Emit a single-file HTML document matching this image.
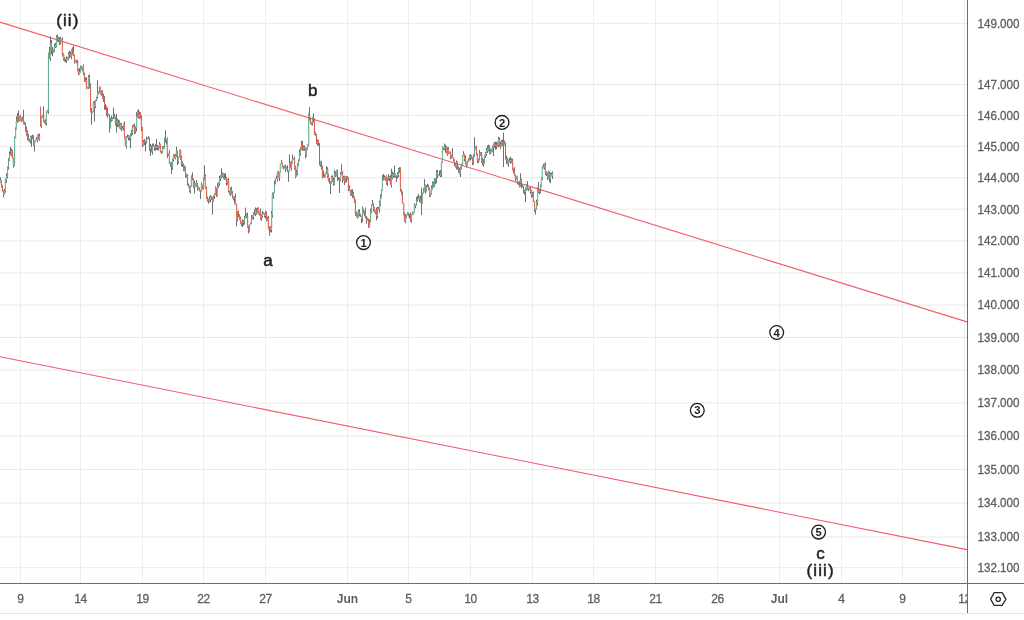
<!DOCTYPE html>
<html><head><meta charset="utf-8"><title>chart</title>
<style>html,body{margin:0;padding:0;background:#fff;overflow:hidden}svg{display:block;will-change:transform}text{font-family:"Liberation Sans",sans-serif}</style>
</head><body>
<svg width="1024" height="620" viewBox="0 0 1024 620">
<rect x="0" y="0" width="1024" height="620" fill="#ffffff"/>
<path d="M20.5 0V583M80.5 0V583M142.5 0V583M203.5 0V583M265.5 0V583M347.5 0V583M408.5 0V583M470.5 0V583M532.5 0V583M593.5 0V583M655.5 0V583M717.5 0V583M779.5 0V583M841.5 0V583M902.5 0V583M964.5 0V583" stroke="#eeeeee" stroke-width="1" fill="none" shape-rendering="crispEdges"/>
<path d="M0 23.36H967M0 84.46H967M0 115.32H967M0 146.40H967M0 177.69H967M0 209.20H967M0 240.93H967M0 272.89H967M0 305.07H967M0 337.48H967M0 370.13H967M0 403.01H967M0 436.14H967M0 469.51H967M0 503.12H967M0 536.99H967M0 567.69H967" stroke="#e9e9e9" stroke-width="1" fill="none"/>
<clipPath id="pane"><rect x="0" y="0" width="967" height="583"/></clipPath>
<g clip-path="url(#pane)">
<path d="M0 22.1L967 321.9M0 356.7L967 549.6" stroke="#f45a69" stroke-width="1.1" fill="none"/>
<path d="M0.5 177.4V180.4M0.5 182.3V182.7M1.5 180.0V180.4M1.5 185.5V187.7M2.5 184.7V185.5M2.5 191.1V191.5M3.5 190.3V191.1M3.5 194.4V197.4M4.5 188.7V191.1M4.5 194.4V194.8M5.5 178.8V180.0M5.5 191.1V192.7M6.5 173.3V176.3M6.5 180.0V183.1M7.5 166.1V166.5M7.5 176.3V178.5M8.5 158.3V159.9M8.5 166.5V169.5M9.5 151.6V154.2M9.5 159.9V161.1M10.5 146.8V154.0M10.5 155.0V155.3M11.5 148.6V151.6M11.5 154.9V156.5M12.5 150.0V151.6M12.5 157.9V158.7M13.5 157.5V157.9M13.5 164.7V167.7M14.5 136.7V137.9M14.5 164.7V165.9M15.5 127.4V129.3M15.5 137.9V138.3M16.5 116.4V121.1M16.5 129.3V129.7M17.5 113.0V116.0M17.5 121.1V122.7M18.5 110.5V116.0M18.5 120.3V121.9M19.5 115.8V116.6M19.5 120.3V121.5M20.5 115.0V116.6M20.5 120.5V120.9M21.5 116.9V117.7M21.5 120.5V122.1M22.5 116.5V117.3M22.5 118.3V121.0M23.5 109.7V118.0M23.5 123.6V124.4M24.5 121.4V123.3M24.5 124.3V125.0M25.5 122.8V124.0M25.5 129.4V131.6M26.5 126.8V129.4M26.5 133.4V135.6M27.5 130.4V133.4M27.5 137.8V140.0M28.5 134.1V137.8M28.5 139.6V141.2M29.5 138.8V139.6M29.5 141.3V142.3M30.5 136.4V137.2M30.5 141.3V143.5M31.5 135.5V137.1M31.5 138.1V146.8M32.5 134.7V136.9M32.5 138.0V139.2M33.5 135.3V136.9M33.5 144.3V145.9M34.5 140.3V141.5M34.5 144.3V151.6M35.5 138.9V139.3M35.5 141.5V142.3M36.5 137.1V138.8M36.5 139.8V139.9M37.5 134.3V134.7M37.5 139.3V142.3M38.5 133.5V134.7M38.5 138.6V139.4M39.5 133.9V136.1M39.5 138.6V140.8M40.5 106.5V107.3M40.5 124.8V126.4M41.5 116.2V117.4M41.5 124.8V127.8M42.5 114.9V116.1M42.5 117.4V118.2M43.5 106.5V116.1M43.5 120.7V121.9M44.5 119.9V120.7M44.5 121.7V123.3M45.5 119.5V121.7M45.5 122.7V124.6M46.5 110.7V111.1M46.5 122.7V125.7M47.5 109.7V110.5M47.5 111.5V112.7M48.5 52.5V52.9M48.5 110.9V113.9M49.5 46.8V52.9M49.5 58.1V58.9M50.5 36.3V43.0M50.5 58.1V61.1M51.5 40.0V43.0M51.5 50.0V54.4M52.5 47.0V50.0M52.5 52.1V56.2M53.5 49.2V50.8M53.5 52.1V52.9M54.5 43.9V46.1M54.5 50.8V52.0M55.5 42.7V45.4M55.5 46.4V48.0M56.5 35.2V37.4M56.5 45.7V47.3M57.5 34.7V37.4M57.5 39.4V41.6M58.5 37.1V38.8M58.5 39.8V42.4M59.5 37.1V39.3M59.5 42.2V45.2M60.5 36.8V39.0M60.5 42.2V44.4M61.5 39.5V39.8M62.5 37.4V39.0M62.5 54.3V56.5M63.5 53.1V54.3M63.5 58.3V60.5M64.5 57.1V58.2M64.5 59.2V61.3M65.5 58.4V58.8M65.5 59.8V62.3M66.5 56.5V58.5M66.5 59.5V62.9M67.5 57.1V58.3M67.5 59.3V60.2M68.5 52.2V55.2M68.5 59.0V60.2M69.5 50.7V53.7M69.5 55.2V58.2M70.5 51.6V53.7M70.5 56.2V57.0M71.5 48.8V49.6M71.5 56.2V59.2M72.5 47.4V49.6M72.5 53.5V55.1M73.5 46.0V53.5M73.5 54.7V55.9M74.5 54.3V54.7M74.5 62.1V63.7M75.5 59.7V60.1M75.5 62.1V62.5M76.5 59.7V60.1M76.5 61.1V63.3M77.5 59.8V61.0M77.5 70.3V71.1M78.5 69.1V70.3M78.5 73.4V75.0M79.5 68.0V72.4M79.5 73.4V74.6M80.5 65.7V67.3M80.5 72.4V72.8M81.5 66.1V67.3M81.5 69.6V70.0M82.5 66.4V66.8M82.5 69.6V71.2M83.5 64.5V66.8M83.5 72.9V75.1M84.5 72.5V72.9M84.5 81.1V81.9M85.5 77.3V80.2M85.5 81.2V82.3M86.5 77.3V80.3M86.5 88.5V89.3M87.5 86.7V87.3M87.5 88.5V88.9M88.5 75.2V77.4M88.5 87.3V88.9M89.5 74.4V77.4M89.5 86.7V88.3M90.5 83.3V86.7M90.5 111.3V112.5M91.5 108.3V111.3M91.5 112.7V124.8M92.5 111.0V111.4M92.5 112.7V113.5M93.5 101.4V103.0M93.5 111.4V112.2M94.5 100.8V103.0M94.5 106.5V121.6M95.5 99.6V100.0M95.5 106.5V108.1M96.5 96.8V98.0M96.5 100.0V101.2M97.5 80.2V93.3M97.5 98.0V98.8M98.5 91.5V92.7M98.5 93.7V94.5M99.5 86.5V86.9M99.5 93.1V93.5M100.5 86.5V86.9M100.5 92.8V94.4M101.5 90.3V92.2M101.5 93.2V95.7M102.5 90.3V92.5M102.5 97.4V99.0M103.5 93.8V97.4M103.5 98.9V101.9M104.5 95.9V98.9M104.5 104.8V109.8M105.5 104.0V104.8M105.5 106.1V109.8M106.5 105.7V106.1M106.5 112.9V115.9M107.5 107.7V112.9M107.5 114.8V117.8M108.5 113.4V114.2M108.5 115.2V115.8M109.5 114.2V114.6M109.5 128.0V132.5M110.5 117.8V119.4M110.5 128.0V128.4M111.5 115.5V119.0M111.5 120.0V121.7M112.5 116.9V117.3M112.5 119.5V120.7M113.5 107.6V116.9M113.5 117.9V119.0M114.5 113.8V116.6M114.5 117.6V118.6M115.5 116.4V116.8M115.5 123.2V125.4M116.5 113.8V119.9M116.5 123.2V132.6M117.5 118.7V119.9M117.5 124.2V127.2M118.5 119.7V122.7M118.5 124.2V126.4M119.5 120.5V122.7M119.5 127.8V128.6M120.5 123.0V124.2M120.5 127.8V129.4M121.5 123.0V124.2M121.5 129.8V131.4M122.5 125.9V128.1M122.5 129.8V130.2M123.5 123.6V124.4M123.5 128.1V130.3M124.5 121.4V124.4M124.5 137.1V138.3M125.5 136.7V137.1M125.5 145.5V146.3M126.5 136.1V137.3M126.5 145.5V148.5M127.5 134.5V136.9M128.5 135.2V136.0M128.5 137.4V140.4M129.5 135.6V136.0M129.5 137.8V140.5M130.5 133.4V135.0M130.5 137.8V148.2M131.5 129.9V132.9M131.5 135.0V136.2M132.5 125.3V126.9M132.5 132.9V135.1M133.5 124.4V125.9M133.5 126.9V127.3M134.5 123.8V126.0M134.5 132.0V134.2M135.5 126.3V127.9M135.5 132.0V133.6M136.5 112.2V116.6M136.5 127.9V131.4M137.5 110.6V112.2M137.5 116.6V117.8M138.5 109.2V112.2M138.5 117.1V118.3M139.5 111.6V114.6M139.5 117.1V118.7M140.5 112.4V114.6M140.5 117.6V119.2M141.5 115.4V117.6M141.5 128.1V131.1M142.5 126.9V128.1M142.5 145.2V147.4M143.5 139.9V142.1M143.5 145.2V146.0M144.5 138.8V140.4M144.5 142.1V145.1M145.5 140.0V140.4M145.5 141.4V151.4M146.5 136.7V139.2M146.5 141.3V143.5M147.5 137.5V138.5M147.5 139.5V140.0M148.5 136.1V138.3M148.5 139.3V139.3M149.5 137.3V138.9M149.5 148.6V150.8M150.5 143.9V146.1M150.5 148.6V156.0M151.5 145.3V146.1M151.5 151.6V152.4M152.5 143.6V146.6M152.5 151.6V154.6M153.5 143.5V145.7M153.5 146.7V147.0M154.5 145.3V145.7M154.5 147.7V150.7M155.5 144.2V146.4M155.5 147.7V150.7M156.5 139.0V146.4M156.5 147.7V149.9M157.5 145.1V147.0M157.5 148.0V150.2M158.5 146.1V146.8M158.5 147.8V150.4M159.5 142.0V144.2M159.5 147.4V148.2M160.5 143.8V144.2M160.5 152.2V152.6M161.5 151.0V152.0M161.5 153.0V154.0M162.5 146.1V147.7M162.5 152.8V153.2M163.5 146.1V147.3M163.5 148.3V149.0M164.5 137.4V137.8M164.5 147.9V148.7M165.5 130.3V137.8M165.5 142.2V143.0M166.5 138.8V139.2M166.5 142.2V144.4M167.5 137.6V139.2M167.5 155.0V158.0M168.5 152.9V153.3M168.5 155.0V155.8M169.5 150.3V153.3M169.5 163.6V164.0M170.5 161.8V162.8M170.5 163.8V166.8M171.5 162.2V163.0M171.5 166.7V174.0M172.5 158.8V160.0M172.5 166.7V169.7M173.5 154.3V155.9M173.5 160.0V161.4M174.5 154.3V155.9M174.5 157.8V158.2M175.5 154.0V155.2M175.5 157.8V159.4M176.5 146.6V150.9M176.5 155.2V156.8M177.5 150.5V150.9M177.5 162.0V165.0M178.5 156.4V156.8M178.5 162.0V163.6M179.5 149.5V150.7M179.5 156.8V157.6M180.5 149.5V150.7M180.5 158.6V159.8M181.5 155.6V158.6M181.5 163.5V166.5M182.5 161.3V163.2M182.5 164.2V166.9M183.5 163.5V163.9M183.5 169.5V171.1M184.5 165.6V166.8M184.5 169.5V171.1M185.5 166.4V166.8M185.5 174.4V177.4M186.5 173.6V174.4M186.5 176.6V177.8M187.5 174.4V176.6M187.5 185.0V185.4M188.5 183.4V185.0M188.5 186.4V187.7M189.5 185.6V186.4M189.5 190.7V192.3M190.5 185.5V185.9M190.5 190.7V193.5M191.5 175.3V176.9M191.5 185.9V186.7M192.5 172.4V176.9M192.5 179.0V180.2M193.5 178.6V179.0M193.5 187.2V188.4M194.5 180.7V183.7M194.5 187.2V193.5M195.5 182.9V183.7M195.5 185.7V186.9M196.5 180.0V183.2M196.5 185.7V186.9M197.5 182.8V183.2M197.5 187.7V190.7M198.5 186.5V187.3M198.5 188.3V189.5M199.5 187.5V187.9M199.5 191.1V191.5M200.5 190.0V190.8M200.5 191.8V199.0M201.5 182.6V185.6M201.5 191.5V191.9M202.5 184.8V185.6M202.5 189.1V189.5M203.5 177.5V178.7M203.5 189.1V189.5M204.5 165.3V176.0M204.5 178.7V179.9M205.5 174.6V176.0M205.5 188.2V189.0M206.5 186.6V188.2M206.5 198.8V199.2M207.5 196.6V198.8M207.5 200.0V201.7M208.5 198.8V199.9M208.5 200.9V203.7M209.5 196.0V199.5M209.5 200.7V201.9M210.5 195.0V196.2M210.5 199.5V202.5M211.5 195.8V196.2M211.5 198.5V200.1M212.5 196.9V198.5M212.5 201.4V214.6M213.5 195.3V195.7M213.5 201.4V201.8M214.5 193.4V193.8M214.5 195.7V198.8M215.5 186.5V188.2M215.5 193.8V195.0M216.5 187.8V188.2M216.5 195.4V197.0M217.5 183.3V187.0M217.5 195.4V196.6M218.5 182.2V183.8M218.5 187.0V188.2M219.5 175.8V178.8M219.5 183.8V186.0M220.5 175.2V176.0M220.5 178.8V181.0M221.5 168.5V175.6M221.5 176.6V178.3M222.5 172.5V174.1M222.5 176.1V177.3M223.5 173.3V174.1M223.5 178.8V179.2M224.5 173.3V178.2M224.5 179.2V180.0M225.5 173.3V178.1M225.5 179.1V179.8M226.5 176.9V178.5M226.5 182.5V185.6M227.5 179.0V180.2M227.5 182.5V184.7M228.5 178.0V180.2M228.5 190.8V192.4M229.5 190.4V190.8M229.5 193.8V194.6M230.5 187.5V189.7M230.5 193.8V196.0M231.5 186.7V189.7M231.5 193.4V194.6M232.5 191.2V193.4M232.5 196.7V198.3M233.5 196.3V196.7M233.5 198.1V200.4M234.5 196.0V197.4M234.5 198.4V203.7M235.5 193.6V197.6M235.5 204.6V205.4M236.5 203.8V204.6M236.5 220.1V226.4M237.5 211.0V211.8M237.5 220.1V221.3M238.5 210.6V211.8M238.5 214.9V217.1M239.5 214.1V214.9M239.5 218.2V219.8M240.5 216.6V218.2M240.5 223.3V224.1M241.5 221.1V221.5M241.5 223.3V226.3M242.5 219.3V221.5M242.5 222.5V227.0M243.5 220.2V222.0M243.5 223.0V225.5M244.5 215.9V217.5M244.5 222.4V224.4M245.5 207.6V216.7M245.5 217.7V218.3M246.5 213.6V215.8M246.5 216.9V218.1M247.5 212.4V215.8M247.5 226.6V227.8M248.5 225.4V226.6M248.5 230.9V233.4M249.5 224.3V224.7M249.5 230.9V231.7M250.5 222.6V223.0M250.5 224.7V225.1M251.5 214.9V217.1M251.5 223.0V223.8M252.5 215.5V216.4M252.5 217.4V219.3M253.5 212.1V212.9M253.5 216.7V219.7M254.5 209.3V212.9M254.5 214.0V215.2M255.5 207.4V210.4M255.5 214.0V216.2M256.5 208.2V210.4M256.5 212.4V214.6M257.5 212.4V212.8M258.5 207.1V207.5M258.5 214.0V214.4M259.5 210.8V211.6M259.5 214.0V215.6M260.5 208.6V211.6M260.5 217.9V219.5M261.5 214.4V215.6M261.5 217.9V220.9M262.5 210.9V213.9M262.5 215.6V217.8M263.5 212.1V213.3M263.5 214.3V214.3M264.5 213.3V213.7M264.5 215.6V217.4M265.5 210.7V214.6M265.5 215.6V218.6M266.5 211.6V214.6M266.5 219.4V221.6M267.5 216.8V218.0M267.5 219.4V220.6M268.5 215.8V218.0M268.5 229.1V229.5M269.5 226.3V227.1M269.5 229.1V235.8M270.5 225.9V227.1M270.5 229.7V231.9M271.5 210.9V214.6M271.5 229.7V232.7M272.5 192.6V194.8M272.5 214.6V217.6M273.5 192.0V192.8M273.5 194.8V198.8M274.5 180.4V184.1M274.5 192.8V193.2M275.5 178.1V178.5M275.5 184.1V184.5M276.5 175.5V178.1M277.5 171.6V172.0M277.5 178.7V181.7M278.5 170.8V172.0M278.5 177.5V178.3M279.5 172.2V172.6M279.5 177.5V181.0M280.5 163.4V163.8M280.5 172.6V173.0M281.5 159.8V162.8M281.5 163.8V164.2M282.5 162.4V162.8M282.5 167.6V168.4M283.5 165.7V167.4M283.5 168.4V169.4M284.5 165.5V166.7M284.5 168.2V168.6M285.5 164.5V166.7M285.5 169.8V172.0M286.5 166.7V168.3M286.5 169.8V170.2M287.5 165.3V168.3M287.5 171.9V172.3M288.5 170.1V170.5M288.5 171.9V181.8M289.5 154.4V163.5M289.5 170.5V171.7M290.5 161.9V163.5M290.5 167.7V168.1M291.5 160.9V162.5M291.5 167.7V170.7M292.5 154.4V159.0M292.5 162.5V163.7M293.5 158.2V158.7M293.5 159.7V159.9M294.5 156.5V159.5M294.5 167.6V169.8M295.5 166.0V167.6M295.5 176.6V178.2M296.5 169.9V172.9M296.5 176.6V177.0M297.5 163.4V165.6M297.5 172.9V175.1M298.5 159.3V160.9M298.5 165.6V166.4M299.5 149.6V152.6M299.5 160.9V161.3M300.5 147.2V148.8M300.5 152.6V155.6M301.5 140.9V143.9M301.5 148.8V150.0M302.5 140.9V143.9M302.5 149.9V150.7M303.5 145.5V147.7M303.5 149.9V150.9M304.5 145.5V147.7M304.5 148.7V150.9M305.5 147.5V148.7M305.5 155.3V158.3M306.5 147.6V148.4M306.5 155.3V156.9M307.5 144.3V145.5M307.5 148.4V150.1M308.5 113.4V114.6M308.5 145.5V146.3M309.5 107.0V114.6M309.5 117.5V120.5M310.5 117.1V117.5M310.5 123.3V124.1M311.5 121.7V122.4M311.5 123.4V125.1M312.5 116.9V117.7M312.5 122.5V125.5M313.5 113.3V117.7M313.5 120.1V122.3M314.5 118.5V120.1M314.5 133.4V135.0M315.5 131.8V133.4M315.5 135.4V136.2M316.5 134.2V135.4M316.5 142.6V144.2M317.5 139.1V141.3M317.5 142.6V145.6M318.5 140.1V141.3M318.5 143.2V145.8M319.5 142.8V143.2M319.5 164.5V165.7M320.5 160.8V161.6M320.5 164.5V166.7M321.5 160.8V161.6M321.5 166.6V169.6M322.5 165.4V166.6M322.5 176.3V178.5M323.5 170.6V176.0M323.5 177.0V177.4M324.5 174.4V176.3M324.5 177.3V178.1M325.5 172.7V173.1M325.5 176.9V177.3M326.5 166.0V169.0M326.5 173.1V174.3M327.5 167.4V169.0M327.5 175.5V177.7M328.5 173.9V175.5M328.5 180.9V181.7M329.5 177.9V180.9M329.5 183.1V183.9M330.5 180.9V181.7M330.5 183.1V194.0M331.5 175.5V177.1M331.5 181.7V183.3M332.5 175.5V177.1M332.5 180.6V181.8M333.5 177.6V180.6M333.5 183.8V185.7M334.5 170.1V173.1M334.5 183.8V185.0M335.5 171.5V173.1M335.5 175.3V176.9M336.5 169.8V170.6M336.5 175.3V176.5M337.5 169.4V170.6M337.5 180.4V181.2M338.5 177.0V179.7M338.5 180.7V180.8M339.5 177.8V179.5M339.5 180.5V193.0M340.5 172.0V174.5M340.5 180.1V181.3M341.5 164.2V171.1M341.5 174.5V175.3M342.5 170.7V171.1M342.5 179.9V182.9M343.5 176.0V177.2M343.5 179.9V180.7M344.5 175.6V177.2M344.5 182.0V185.0M345.5 176.8V177.6M345.5 182.0V182.8M346.5 175.9V177.6M346.5 179.2V182.2M347.5 176.2V178.7M348.5 177.6V179.2M348.5 188.3V191.3M349.5 185.3V188.3M349.5 190.1V190.5M350.5 189.7V190.1M350.5 193.5V195.7M351.5 189.6V192.9M351.5 193.9V195.7M352.5 189.2V193.3M352.5 194.8V197.8M353.5 191.8V194.8M353.5 197.3V198.5M354.5 196.5V197.3M354.5 200.6V202.8M355.5 199.4V200.6M355.5 214.6V215.8M356.5 211.4V212.8M356.5 214.6V216.8M357.5 212.4V212.8M357.5 217.5V218.7M358.5 209.5V212.5M358.5 217.5V217.9M359.5 209.4V212.5M359.5 214.0V216.2M360.5 213.6V214.0M360.5 216.1V216.9M361.5 215.7V216.1M361.5 218.8V223.0M362.5 206.5V209.5M362.5 218.8V221.8M363.5 208.7V209.5M363.5 213.1V213.5M364.5 210.2V210.6M364.5 213.1V216.1M365.5 207.6V210.6M365.5 218.3V218.7M366.5 216.1V218.3M366.5 220.6V223.6M367.5 217.7V218.9M367.5 220.6V221.0M368.5 218.5V218.9M368.5 226.3V227.9M369.5 219.3V220.9M369.5 226.3V227.5M370.5 208.5V211.5M370.5 220.9V222.5M371.5 204.0V204.8M371.5 211.5V213.1M372.5 200.0V203.4M372.5 204.8V205.6M373.5 203.0V203.4M373.5 208.4V211.4M374.5 207.1V208.4M374.5 212.7V213.1M375.5 209.8V210.6M375.5 212.7V214.3M376.5 207.6V210.6M376.5 215.4V220.4M377.5 206.9V208.1M377.5 215.4V218.4M378.5 206.9V208.1M378.5 209.8V210.2M379.5 200.6V203.6M379.5 209.8V212.8M380.5 194.5V197.5M380.5 203.6V205.8M381.5 189.5V189.9M381.5 197.5V198.7M382.5 175.0V178.0M382.5 189.9V190.7M383.5 174.0V177.0M383.5 178.0V180.5M384.5 175.4V177.0M384.5 178.6V179.8M385.5 176.1V176.5M385.5 178.6V180.8M386.5 175.3V176.5M386.5 182.5V184.7M387.5 177.7V178.9M387.5 182.5V186.0M388.5 174.1V177.1M388.5 178.9V180.5M389.5 175.9V176.8M389.5 177.8V181.2M390.5 175.2V177.4M390.5 184.7V185.1M391.5 168.8V177.8M391.5 184.7V187.6M392.5 171.6V174.6M392.5 177.8V179.4M393.5 173.0V174.5M393.5 175.5V177.4M394.5 165.6V174.6M394.5 175.6V177.7M395.5 173.6V174.6M395.5 175.6V177.6M396.5 175.0V175.3M396.5 176.3V181.9M397.5 172.2V174.4M397.5 176.2V178.4M398.5 168.0V169.6M398.5 174.4V177.2M399.5 167.2V169.0M399.5 170.0V172.6M400.5 167.3V169.5M400.5 189.3V191.5M401.5 188.9V189.3M401.5 193.7V194.9M402.5 191.5V193.7M402.5 203.1V203.5M403.5 202.7V203.1M403.5 214.6V215.4M404.5 212.4V214.6M404.5 220.9V221.7M405.5 214.1V217.3M405.5 220.9V223.1M406.5 214.5V214.9M406.5 217.3V218.5M407.5 212.2V212.9M407.5 214.9V215.3M408.5 212.5V212.9M408.5 214.2V216.4M409.5 213.8V214.2M409.5 215.3V218.5M410.5 212.3V215.3M410.5 219.4V221.6M411.5 214.1V214.9M411.5 219.4V222.8M412.5 211.4V213.3M412.5 214.9V215.3M413.5 212.2V212.4M413.5 213.4V214.5M414.5 203.5V205.1M414.5 212.6V213.0M415.5 204.3V204.7M415.5 205.7V208.3M416.5 197.0V200.0M416.5 205.3V205.7M417.5 195.8V198.8M417.5 200.0V201.6M418.5 193.9V196.9M418.5 198.8V199.2M419.5 196.1V196.9M419.5 198.7V202.4M420.5 195.7V198.7M420.5 202.1V202.9M421.5 187.6V201.5M421.5 202.5V215.0M422.5 192.7V193.5M422.5 201.9V203.5M423.5 188.4V191.4M423.5 193.5V193.9M424.5 179.0V185.7M424.5 191.4V192.2M425.5 184.5V185.7M425.5 191.6V193.8M426.5 185.3V186.9M426.5 191.6V192.0M427.5 183.8V186.4M428.5 184.7V186.9M428.5 188.7V190.3M429.5 187.5V188.7M429.5 195.2V197.0M430.5 193.0V193.4M430.5 195.2V196.8M431.5 185.4V188.4M431.5 193.4V194.6M432.5 181.5V183.7M432.5 188.4V189.6M433.5 181.5V183.7M433.5 186.2V187.4M434.5 178.2V179.0M434.5 186.2V187.4M435.5 178.2V179.0M435.5 180.1V184.3M436.5 170.0V172.2M436.5 180.1V183.1M437.5 170.0V172.2M437.5 175.4V178.4M438.5 174.6V175.1M438.5 176.1V176.2M439.5 170.5V175.1M439.5 176.1V176.2M440.5 170.0V173.0M440.5 175.4V177.0M441.5 161.5V162.3M441.5 173.0V177.3M442.5 146.3V147.5M442.5 162.3V162.7M443.5 147.1V147.5M443.5 148.9V150.1M444.5 143.5V146.0M444.5 148.9V150.1M445.5 144.8V146.0M445.5 147.1V152.7M446.5 145.9V147.1M446.5 153.6V154.0M447.5 147.2V149.4M447.5 153.6V155.8M448.5 147.2V149.4M448.5 153.3V154.1M449.5 151.6V152.0M449.5 153.3V153.7M450.5 151.6V152.0M450.5 157.1V159.3M451.5 155.2V156.5M451.5 157.5V158.7M452.5 148.2V156.7M452.5 157.7V157.9M453.5 157.1V157.5M453.5 159.7V161.1M454.5 158.9V159.7M454.5 163.4V166.2M455.5 162.6V163.4M455.5 167.1V167.5M456.5 160.5V162.7M456.5 167.1V169.3M457.5 161.5V162.7M457.5 168.6V169.8M458.5 166.4V168.6M458.5 170.1V172.8M459.5 167.9V170.1M459.5 173.9V174.7M460.5 166.6V168.2M460.5 173.9V177.1M461.5 163.4V164.5M461.5 168.2V169.4M462.5 155.0V155.8M462.5 164.5V166.1M463.5 151.2V154.2M463.5 155.8V156.2M464.5 153.8V154.2M464.5 158.5V161.5M465.5 155.5V158.5M465.5 162.3V164.5M466.5 161.9V162.3M466.5 164.4V167.6M467.5 160.5V160.9M467.5 164.4V165.6M468.5 158.5V160.3M468.5 161.3V162.1M469.5 154.9V156.5M469.5 160.8V161.2M470.5 154.1V155.9M470.5 156.9V160.3M471.5 155.1V156.3M471.5 157.5V159.1M472.5 156.7V157.5M472.5 163.0V165.2M473.5 154.2V156.4M473.5 163.0V164.6M474.5 137.2V148.4M474.5 156.4V157.2M475.5 146.4V146.8M475.5 148.4V149.6M476.5 145.6V146.8M476.5 153.6V155.2M477.5 153.2V153.6M477.5 160.1V162.7M478.5 158.5V159.7M478.5 160.7V163.3M479.5 150.1V153.1M479.5 160.3V160.7M480.5 152.3V153.1M480.5 154.2V155.8M481.5 152.0V154.2M481.5 160.7V162.9M482.5 157.7V160.7M482.5 162.2V165.2M483.5 159.2V162.2M483.5 163.5V166.5M484.5 155.4V155.8M484.5 163.5V163.9M485.5 152.0V153.6M485.5 155.8V158.0M486.5 147.9V150.1M486.5 153.6V155.8M487.5 145.4V149.4M487.5 150.4V153.1M488.5 144.8V147.0M488.5 149.7V151.3M489.5 145.4V147.0M489.5 152.6V154.2M490.5 148.7V149.5M490.5 152.6V154.2M491.5 148.3V149.5M491.5 151.4V152.6M492.5 145.7V146.9M492.5 151.4V152.2M493.5 143.5V144.1M493.5 146.9V156.0M494.5 141.9V144.1M494.5 145.3V147.8M495.5 141.7V143.9M495.5 145.3V149.6M496.5 141.7V143.9M496.5 146.4V149.4M497.5 142.7V144.9M497.5 146.4V147.2M498.5 136.8V139.0M498.5 144.9V147.1M499.5 137.4V139.0M499.5 144.8V146.4M500.5 141.8V144.8M500.5 146.5V148.7M501.5 139.8V141.0M501.5 146.5V146.9M502.5 139.8V141.0M502.5 142.7V145.7M503.5 132.5V142.7M503.5 144.7V167.0M504.5 140.7V142.9M504.5 144.7V145.5M505.5 142.5V142.9M505.5 158.6V159.8M506.5 155.6V158.6M506.5 159.8V163.9M507.5 157.6V159.8M507.5 164.0V164.4M508.5 159.6V160.0M508.5 164.0V167.0M509.5 157.8V160.0M509.5 161.4V162.6M510.5 156.8V160.5M510.5 161.5V163.6M511.5 158.5V160.3M511.5 161.3V163.1M512.5 158.7V160.9M512.5 168.8V170.4M513.5 168.4V168.8M513.5 170.1V173.1M514.5 167.1V170.1M514.5 174.4V175.6M515.5 174.0V174.4M515.5 178.9V181.1M516.5 175.8V176.2M516.5 178.9V179.3M517.5 175.8V176.2M517.5 182.7V184.3M518.5 181.7V182.1M518.5 183.1V184.9M519.5 180.9V182.5M519.5 186.2V187.4M520.5 173.2V180.5M520.5 186.2V187.0M521.5 178.9V180.5M521.5 187.3V188.5M522.5 184.9V186.8M523.5 186.1V187.3M523.5 191.6V193.2M524.5 190.0V191.1M524.5 192.1V194.8M525.5 187.9V189.1M525.5 191.7V202.2M526.5 184.3V185.1M526.5 189.1V190.7M527.5 181.0V185.1M527.5 189.0V189.8M528.5 187.6V188.2M528.5 189.2V191.2M529.5 187.6V188.0M529.5 189.0V189.7M530.5 186.3V188.5M530.5 191.4V193.6M531.5 189.8V191.4M531.5 194.8V197.8M532.5 192.1V193.7M532.5 194.8V197.0M533.5 191.5V193.7M533.5 201.2V202.0M534.5 200.8V201.2M534.5 209.6V211.8M535.5 208.6V209.1M535.5 210.1V214.7M536.5 199.6V202.6M536.5 209.5V209.9M537.5 187.0V187.8M537.5 202.6V205.6M538.5 181.8V187.8M538.5 191.9V193.1M539.5 188.8V190.0M539.5 191.9V194.4M540.5 184.6V186.2M540.5 190.0V193.0M541.5 177.3V178.5M541.5 186.2V187.0M542.5 166.1V167.3M542.5 178.5V180.1M543.5 163.8V166.8M543.5 167.8V168.5M544.5 163.5V164.7M544.5 167.3V169.5M545.5 162.3V164.7M545.5 172.8V175.0M546.5 171.2V172.4M546.5 173.4V176.2M547.5 172.1V172.9M547.5 177.6V179.8M548.5 170.6V171.8M548.5 177.6V179.2M549.5 171.4V171.8M549.5 179.0V182.0M550.5 172.4V174.6M550.5 179.0V183.3M551.5 172.8V174.6M551.5 175.7V176.5M552.5 171.4V173.0M552.5 175.7V179.0" stroke="#6d7075" stroke-width="1" fill="none"/>
<path d="M0.26 180.4V182.3M4.77 191.1V194.4M5.30 180.0V191.1M6.28 176.3V180.0M7.62 166.5V176.3M8.52 159.9V166.5M9.39 154.2V159.9M11.38 151.6V154.9M14.61 137.9V164.7M15.69 129.3V137.9M16.25 121.1V129.3M17.38 116.0V121.1M19.29 116.6V120.3M21.70 117.7V120.5M30.28 137.2V141.3M32.49 136.9V138.0M34.37 141.5V144.3M35.75 139.3V141.5M37.69 134.7V139.3M39.67 136.1V138.6M41.24 117.4V124.8M42.61 116.1V117.4M46.29 111.1V122.7M47.72 110.5V111.5M48.44 52.9V110.9M50.30 43.0V58.1M53.24 50.8V52.1M54.37 46.1V50.8M55.72 45.4V46.4M56.68 37.4V45.7M58.65 38.8V39.8M60.49 39.0V42.2M61.33 38.5V39.5M66.69 58.5V59.5M68.66 55.2V59.0M69.59 53.7V55.2M71.69 49.6V56.2M75.77 60.1V62.1M79.27 72.4V73.4M80.37 67.3V72.4M82.23 66.8V69.6M85.52 80.2V81.2M87.23 87.3V88.5M88.36 77.4V87.3M92.23 111.4V112.7M93.25 103.0V111.4M95.32 100.0V106.5M96.76 98.0V100.0M97.42 93.3V98.0M98.50 92.7V93.7M99.37 86.9V93.1M101.70 92.2V93.2M108.43 114.2V115.2M110.64 119.4V128.0M112.35 117.3V119.5M114.65 116.6V117.6M116.54 119.9V123.2M118.38 122.7V124.2M120.26 124.2V127.8M122.30 128.1V129.8M123.68 124.4V128.1M126.30 137.3V145.5M128.23 136.0V137.4M130.70 135.0V137.8M131.58 132.9V135.0M132.40 126.9V132.9M133.67 125.9V126.9M135.56 127.9V132.0M136.73 116.6V127.9M137.38 112.2V116.6M139.29 114.6V117.1M143.72 142.1V145.2M144.51 140.4V142.1M146.57 139.2V141.3M147.44 138.5V139.5M150.76 146.1V148.6M152.58 146.6V151.6M153.22 145.7V146.7M155.46 146.4V147.7M157.23 147.0V148.0M159.24 144.2V147.4M162.61 147.7V152.8M164.50 137.8V147.9M166.50 139.2V142.2M168.23 153.3V155.0M170.28 162.8V163.8M172.63 160.0V166.7M173.28 155.9V160.0M175.27 155.2V157.8M176.33 150.9V155.2M178.24 156.8V162.0M179.64 150.7V156.8M184.68 166.8V169.5M190.27 185.9V190.7M191.35 176.9V185.9M194.33 183.7V187.2M196.78 183.2V185.7M201.28 185.6V191.5M203.56 178.7V189.1M204.45 176.0V178.7M209.45 199.5V200.7M210.33 196.2V199.5M213.53 195.7V201.4M214.57 193.8V195.7M215.38 188.2V193.8M217.29 187.0V195.4M218.25 183.8V187.0M219.61 178.8V183.8M220.45 176.0V178.8M222.29 174.1V176.1M224.29 178.2V179.2M225.58 178.1V179.1M227.77 180.2V182.5M230.59 189.7V193.8M234.76 197.4V198.4M237.50 211.8V220.1M241.70 221.5V223.3M243.70 222.0V223.0M244.54 217.5V222.4M245.32 216.7V217.7M246.39 215.8V216.9M249.49 224.7V230.9M250.54 223.0V224.7M251.45 217.1V223.0M252.68 216.4V217.4M253.30 212.9V216.7M255.72 210.4V214.0M257.52 207.5V212.4M259.33 211.6V214.0M261.25 215.6V217.9M262.22 213.9V215.6M263.64 213.3V214.3M265.75 214.6V215.6M267.58 218.0V219.4M269.64 227.1V229.1M271.69 214.6V229.7M272.22 194.8V214.6M273.72 192.8V194.8M274.54 184.1V192.8M275.57 178.5V184.1M277.26 172.0V178.7M279.75 172.6V177.5M280.24 163.8V172.6M281.68 162.8V163.8M284.62 166.7V168.2M286.46 168.3V169.8M288.68 170.5V171.9M289.65 163.5V170.5M291.41 162.5V167.7M292.68 159.0V162.5M296.43 172.9V176.6M297.32 165.6V172.9M298.52 160.9V165.6M299.42 152.6V160.9M300.53 148.8V152.6M301.54 143.9V148.8M303.63 147.7V149.9M306.30 148.4V155.3M307.37 145.5V148.4M308.72 114.6V145.5M311.61 122.4V123.4M312.62 117.7V122.5M317.59 141.3V142.6M320.41 161.6V164.5M325.26 173.1V176.9M326.54 169.0V173.1M330.59 181.7V183.1M331.78 177.1V181.7M334.42 173.1V183.8M336.70 170.6V175.3M338.34 179.7V180.7M340.66 174.5V180.1M341.56 171.1V174.5M343.50 177.2V179.9M345.49 177.6V182.0M347.31 178.7V179.7M351.49 192.9V193.9M356.41 212.8V214.6M358.66 212.5V217.5M362.61 209.5V218.8M364.32 210.6V213.1M367.46 218.9V220.6M369.61 220.9V226.3M370.55 211.5V220.9M371.65 204.8V211.5M372.72 203.4V204.8M375.63 210.6V212.7M377.53 208.1V215.4M379.68 203.6V209.8M380.31 197.5V203.6M381.43 189.9V197.5M382.30 178.0V189.9M383.57 177.0V178.0M385.77 176.5V178.6M387.46 178.9V182.5M388.56 177.1V178.9M391.37 177.8V184.7M392.41 174.6V177.8M394.25 174.6V175.6M397.72 174.4V176.2M398.55 169.6V174.4M399.38 169.0V170.0M405.68 217.3V220.9M406.33 214.9V217.3M407.53 212.9V214.9M411.34 214.9V219.4M412.73 213.3V214.9M413.66 212.4V213.4M414.28 205.1V212.6M416.48 200.0V205.3M417.43 198.8V200.0M418.48 196.9V198.8M421.57 201.5V202.5M422.28 193.5V201.9M423.32 191.4V193.5M424.37 185.7V191.4M426.40 186.9V191.6M430.38 193.4V195.2M431.30 188.4V193.4M432.51 183.7V188.4M434.54 179.0V186.2M436.50 172.2V180.1M439.51 175.1V176.1M440.27 173.0V175.4M441.37 162.3V173.0M442.31 147.5V162.3M444.62 146.0V148.9M447.30 149.4V153.6M449.27 152.0V153.3M451.42 156.5V157.5M456.24 162.7V167.1M460.57 168.2V173.9M461.46 164.5V168.2M462.76 155.8V164.5M463.67 154.2V155.8M467.41 160.9V164.4M468.27 160.3V161.3M469.51 156.5V160.8M470.37 155.9V156.9M473.48 156.4V163.0M474.51 148.4V156.4M475.31 146.8V148.4M479.51 153.1V160.3M484.45 155.8V163.5M485.30 153.6V155.8M486.28 150.1V153.6M487.42 149.4V150.4M488.58 147.0V149.7M490.54 149.5V152.6M492.76 146.9V151.4M493.36 144.1V146.9M495.60 143.9V145.3M497.28 144.9V146.4M498.31 139.0V144.9M501.68 141.0V146.5M504.45 142.9V144.7M508.24 160.0V164.0M510.33 160.5V161.5M516.34 176.2V178.9M518.70 182.1V183.1M520.60 180.5V186.2M525.36 189.1V191.7M526.24 185.1V189.1M528.47 188.2V189.2M532.77 193.7V194.8M535.62 209.1V210.1M536.61 202.6V209.5M537.72 187.8V202.6M539.68 190.0V191.9M540.71 186.2V190.0M541.24 178.5V186.2M542.23 167.3V178.5M543.73 166.8V167.8M544.63 164.7V167.3M548.60 171.8V177.6M550.25 174.6V179.0M552.64 173.0V175.7" stroke="#4fa37e" stroke-width="0.95" fill="none"/>
<path d="M1.34 180.4V185.5M2.53 185.5V191.1M3.57 191.1V194.4M10.54 154.0V155.0M12.64 151.6V157.9M13.26 157.9V164.7M18.42 116.0V120.3M20.31 116.6V120.5M22.72 117.3V118.3M23.35 118.0V123.6M24.37 123.3V124.3M25.54 124.0V129.4M26.59 129.4V133.4M27.44 133.4V137.8M28.25 137.8V139.6M29.41 139.6V141.3M31.43 137.1V138.1M33.49 136.9V144.3M36.64 138.8V139.8M38.52 134.7V138.6M40.63 107.3V124.8M43.75 116.1V120.7M44.33 120.7V121.7M45.49 121.7V122.7M49.32 52.9V58.1M51.31 43.0V50.0M52.28 50.0V52.1M57.51 37.4V39.4M59.29 39.3V42.2M62.24 39.0V54.3M63.77 54.3V58.3M64.50 58.2V59.2M65.51 58.8V59.8M67.26 58.3V59.3M70.64 53.7V56.2M72.41 49.6V53.5M73.23 53.5V54.7M74.41 54.7V62.1M76.37 60.1V61.1M77.68 61.0V70.3M78.30 70.3V73.4M81.56 67.3V69.6M83.29 66.8V72.9M84.37 72.9V81.1M86.37 80.3V88.5M89.59 77.4V86.7M90.61 86.7V111.3M91.58 111.3V112.7M94.76 103.0V106.5M100.23 86.9V92.8M102.65 92.5V97.4M103.57 97.4V98.9M104.57 98.9V104.8M105.64 104.8V106.1M106.55 106.1V112.9M107.35 112.9V114.8M109.52 114.6V128.0M111.26 119.0V120.0M113.50 116.9V117.9M115.30 116.8V123.2M117.28 119.9V124.2M119.39 122.7V127.8M121.34 124.2V129.8M124.35 124.4V137.1M125.22 137.1V145.5M127.40 136.9V137.9M129.44 136.0V137.8M134.33 126.0V132.0M138.45 112.2V117.1M140.53 114.6V117.6M141.30 117.6V128.1M142.27 128.1V145.2M145.38 140.4V141.4M148.29 138.3V139.3M149.49 138.9V148.6M151.51 146.1V151.6M154.62 145.7V147.7M156.75 146.4V147.7M158.69 146.8V147.8M160.33 144.2V152.2M161.35 152.0V153.0M163.22 147.3V148.3M165.48 137.8V142.2M167.25 139.2V155.0M169.32 153.3V163.6M171.59 163.0V166.7M174.53 155.9V157.8M177.45 150.9V162.0M180.76 150.7V158.6M181.40 158.6V163.5M182.75 163.2V164.2M183.62 163.9V169.5M185.39 166.8V174.4M186.70 174.4V176.6M187.51 176.6V185.0M188.58 185.0V186.4M189.71 186.4V190.7M192.64 176.9V179.0M193.38 179.0V187.2M195.72 183.7V185.7M197.48 183.2V187.7M198.73 187.3V188.3M199.33 187.9V191.1M200.51 190.8V191.8M202.43 185.6V189.1M205.24 176.0V188.2M206.67 188.2V198.8M207.59 198.8V200.0M208.39 199.9V200.9M211.72 196.2V198.5M212.71 198.5V201.4M216.49 188.2V195.4M221.34 175.6V176.6M223.71 174.1V178.8M226.43 178.5V182.5M228.69 180.2V190.8M229.42 190.8V193.8M231.66 189.7V193.4M232.59 193.4V196.7M233.63 196.7V198.1M235.26 197.6V204.6M236.72 204.6V220.1M238.50 211.8V214.9M239.31 214.9V218.2M240.66 218.2V223.3M242.61 221.5V222.5M247.63 215.8V226.6M248.57 226.6V230.9M254.45 212.9V214.0M256.63 210.4V212.4M258.23 207.5V214.0M260.68 211.6V217.9M264.35 213.7V215.6M266.60 214.6V219.4M268.32 218.0V229.1M270.35 227.1V229.7M276.24 178.1V179.1M278.68 172.0V177.5M282.27 162.8V167.6M283.46 167.4V168.4M285.49 166.7V169.8M287.52 168.3V171.9M290.50 163.5V167.7M293.75 158.7V159.7M294.66 159.5V167.6M295.72 167.6V176.6M302.50 143.9V149.9M304.42 147.7V148.7M305.78 148.7V155.3M309.34 114.6V117.5M310.36 117.5V123.3M313.70 117.7V120.1M314.40 120.1V133.4M315.66 133.4V135.4M316.49 135.4V142.6M318.44 141.3V143.2M319.52 143.2V164.5M321.49 161.6V166.6M322.41 166.6V176.3M323.44 176.0V177.0M324.58 176.3V177.3M327.76 169.0V175.5M328.31 175.5V180.9M329.48 180.9V183.1M332.66 177.1V180.6M333.77 180.6V183.8M335.57 173.1V175.3M337.52 170.6V180.4M339.54 179.5V180.5M342.72 171.1V179.9M344.71 177.2V182.0M346.50 177.6V179.2M348.39 179.2V188.3M349.32 188.3V190.1M350.25 190.1V193.5M352.45 193.3V194.8M353.41 194.8V197.3M354.46 197.3V200.6M355.42 200.6V214.6M357.33 212.8V217.5M359.54 212.5V214.0M360.68 214.0V216.1M361.73 216.1V218.8M363.59 209.5V213.1M365.43 210.6V218.3M366.36 218.3V220.6M368.54 218.9V226.3M373.59 203.4V208.4M374.29 208.4V212.7M376.61 210.6V215.4M378.62 208.1V209.8M384.66 177.0V178.6M386.63 176.5V182.5M389.22 176.8V177.8M390.38 177.4V184.7M393.66 174.5V175.5M395.64 174.6V175.6M396.67 175.3V176.3M400.36 169.5V189.3M401.57 189.3V193.7M402.41 193.7V203.1M403.77 203.1V214.6M404.37 214.6V220.9M408.58 212.9V214.2M409.40 214.2V215.3M410.44 215.3V219.4M415.64 204.7V205.7M419.26 196.9V198.7M420.66 198.7V202.1M425.69 185.7V191.6M427.57 186.4V187.4M428.69 186.9V188.7M429.77 188.7V195.2M433.32 183.7V186.2M435.32 179.0V180.1M437.62 172.2V175.4M438.26 175.1V176.1M443.51 147.5V148.9M445.71 146.0V147.1M446.75 147.1V153.6M448.31 149.4V153.3M450.58 152.0V157.1M452.48 156.7V157.7M453.29 157.5V159.7M454.30 159.7V163.4M455.75 163.4V167.1M457.44 162.7V168.6M458.68 168.6V170.1M459.76 170.1V173.9M464.57 154.2V158.5M465.67 158.5V162.3M466.23 162.3V164.4M471.56 156.3V157.5M472.62 157.5V163.0M476.37 146.8V153.6M477.31 153.6V160.1M478.25 159.7V160.7M480.41 153.1V154.2M481.70 154.2V160.7M482.74 160.7V162.2M483.57 162.2V163.5M489.47 147.0V152.6M491.76 149.5V151.4M494.52 144.1V145.3M496.42 143.9V146.4M499.65 139.0V144.8M500.64 144.8V146.5M502.41 141.0V142.7M503.31 142.7V144.7M505.54 142.9V158.6M506.23 158.6V159.8M507.73 159.8V164.0M509.71 160.0V161.4M511.28 160.3V161.3M512.68 160.9V168.8M513.23 168.8V170.1M514.42 170.1V174.4M515.26 174.4V178.9M517.25 176.2V182.7M519.45 182.5V186.2M521.44 180.5V187.3M522.32 186.8V187.8M523.53 187.3V191.6M524.45 191.1V192.1M527.62 185.1V189.0M529.42 188.0V189.0M530.39 188.5V191.4M531.29 191.4V194.8M533.29 193.7V201.2M534.70 201.2V209.6M538.33 187.8V191.9M545.31 164.7V172.8M546.24 172.4V173.4M547.69 172.9V177.6M549.38 171.8V179.0M551.66 174.6V175.7" stroke="#de4833" stroke-width="0.95" fill="none"/>
</g>
<path d="M0 583.5H1024M967.5 0V613" stroke="#6c6c6c" stroke-width="1" fill="none" shape-rendering="crispEdges"/>
<path d="M0 613.5H1024" stroke="#e6e6e6" stroke-width="1" fill="none" shape-rendering="crispEdges"/>
<text x="977.5" y="27.7" font-size="12" fill="#5e5e5e" stroke="#5e5e5e" stroke-width="0.3" textLength="42" lengthAdjust="spacingAndGlyphs">149.000</text>
<text x="977.5" y="88.8" font-size="12" fill="#5e5e5e" stroke="#5e5e5e" stroke-width="0.3" textLength="42" lengthAdjust="spacingAndGlyphs">147.000</text>
<text x="977.5" y="119.6" font-size="12" fill="#5e5e5e" stroke="#5e5e5e" stroke-width="0.3" textLength="42" lengthAdjust="spacingAndGlyphs">146.000</text>
<text x="977.5" y="150.7" font-size="12" fill="#5e5e5e" stroke="#5e5e5e" stroke-width="0.3" textLength="42" lengthAdjust="spacingAndGlyphs">145.000</text>
<text x="977.5" y="182.0" font-size="12" fill="#5e5e5e" stroke="#5e5e5e" stroke-width="0.3" textLength="42" lengthAdjust="spacingAndGlyphs">144.000</text>
<text x="977.5" y="213.5" font-size="12" fill="#5e5e5e" stroke="#5e5e5e" stroke-width="0.3" textLength="42" lengthAdjust="spacingAndGlyphs">143.000</text>
<text x="977.5" y="245.2" font-size="12" fill="#5e5e5e" stroke="#5e5e5e" stroke-width="0.3" textLength="42" lengthAdjust="spacingAndGlyphs">142.000</text>
<text x="977.5" y="277.2" font-size="12" fill="#5e5e5e" stroke="#5e5e5e" stroke-width="0.3" textLength="42" lengthAdjust="spacingAndGlyphs">141.000</text>
<text x="977.5" y="309.4" font-size="12" fill="#5e5e5e" stroke="#5e5e5e" stroke-width="0.3" textLength="42" lengthAdjust="spacingAndGlyphs">140.000</text>
<text x="977.5" y="341.8" font-size="12" fill="#5e5e5e" stroke="#5e5e5e" stroke-width="0.3" textLength="42" lengthAdjust="spacingAndGlyphs">139.000</text>
<text x="977.5" y="374.4" font-size="12" fill="#5e5e5e" stroke="#5e5e5e" stroke-width="0.3" textLength="42" lengthAdjust="spacingAndGlyphs">138.000</text>
<text x="977.5" y="407.3" font-size="12" fill="#5e5e5e" stroke="#5e5e5e" stroke-width="0.3" textLength="42" lengthAdjust="spacingAndGlyphs">137.000</text>
<text x="977.5" y="440.4" font-size="12" fill="#5e5e5e" stroke="#5e5e5e" stroke-width="0.3" textLength="42" lengthAdjust="spacingAndGlyphs">136.000</text>
<text x="977.5" y="473.8" font-size="12" fill="#5e5e5e" stroke="#5e5e5e" stroke-width="0.3" textLength="42" lengthAdjust="spacingAndGlyphs">135.000</text>
<text x="977.5" y="507.4" font-size="12" fill="#5e5e5e" stroke="#5e5e5e" stroke-width="0.3" textLength="42" lengthAdjust="spacingAndGlyphs">134.000</text>
<text x="977.5" y="541.3" font-size="12" fill="#5e5e5e" stroke="#5e5e5e" stroke-width="0.3" textLength="42" lengthAdjust="spacingAndGlyphs">133.000</text>
<text x="977.5" y="572.0" font-size="12" fill="#5e5e5e" stroke="#5e5e5e" stroke-width="0.3" textLength="42" lengthAdjust="spacingAndGlyphs">132.100</text>
<clipPath id="tclip"><rect x="0" y="584" width="967" height="30"/></clipPath><g clip-path="url(#tclip)">
<text x="20.5" y="603.1" font-size="12" fill="#5e5e5e" text-anchor="middle" stroke="#5e5e5e" stroke-width="0.3" letter-spacing="-0.3">9</text>
<text x="80.5" y="603.1" font-size="12" fill="#5e5e5e" text-anchor="middle" stroke="#5e5e5e" stroke-width="0.3" letter-spacing="-0.3">14</text>
<text x="142.5" y="603.1" font-size="12" fill="#5e5e5e" text-anchor="middle" stroke="#5e5e5e" stroke-width="0.3" letter-spacing="-0.3">19</text>
<text x="203.5" y="603.1" font-size="12" fill="#5e5e5e" text-anchor="middle" stroke="#5e5e5e" stroke-width="0.3" letter-spacing="-0.3">22</text>
<text x="265.5" y="603.1" font-size="12" fill="#5e5e5e" text-anchor="middle" stroke="#5e5e5e" stroke-width="0.3" letter-spacing="-0.3">27</text>
<text x="347.5" y="603.1" font-size="12" fill="#5e5e5e" text-anchor="middle" font-weight="bold">Jun</text>
<text x="408.5" y="603.1" font-size="12" fill="#5e5e5e" text-anchor="middle" stroke="#5e5e5e" stroke-width="0.3" letter-spacing="-0.3">5</text>
<text x="470.5" y="603.1" font-size="12" fill="#5e5e5e" text-anchor="middle" stroke="#5e5e5e" stroke-width="0.3" letter-spacing="-0.3">10</text>
<text x="532.5" y="603.1" font-size="12" fill="#5e5e5e" text-anchor="middle" stroke="#5e5e5e" stroke-width="0.3" letter-spacing="-0.3">13</text>
<text x="593.5" y="603.1" font-size="12" fill="#5e5e5e" text-anchor="middle" stroke="#5e5e5e" stroke-width="0.3" letter-spacing="-0.3">18</text>
<text x="655.5" y="603.1" font-size="12" fill="#5e5e5e" text-anchor="middle" stroke="#5e5e5e" stroke-width="0.3" letter-spacing="-0.3">21</text>
<text x="717.5" y="603.1" font-size="12" fill="#5e5e5e" text-anchor="middle" stroke="#5e5e5e" stroke-width="0.3" letter-spacing="-0.3">26</text>
<text x="779.5" y="603.1" font-size="12" fill="#5e5e5e" text-anchor="middle" font-weight="bold">Jul</text>
<text x="841.5" y="603.1" font-size="12" fill="#5e5e5e" text-anchor="middle" stroke="#5e5e5e" stroke-width="0.3" letter-spacing="-0.3">4</text>
<text x="902.5" y="603.1" font-size="12" fill="#5e5e5e" text-anchor="middle" stroke="#5e5e5e" stroke-width="0.3" letter-spacing="-0.3">9</text>
<text x="964.5" y="603.1" font-size="12" fill="#5e5e5e" text-anchor="middle" stroke="#5e5e5e" stroke-width="0.3" letter-spacing="-0.3">12</text>
</g>
<polygon points="990.6,599.1 994.2,592.6 1002.2,592.6 1005.9,599.1 1002.2,605.4 994.2,605.4" fill="none" stroke="#2a2a2a" stroke-width="1.3" stroke-linejoin="round"/>
<circle cx="998.2" cy="599.3" r="2.15" fill="none" stroke="#2a2a2a" stroke-width="1.3"/>
<text x="67.8" y="25.8" font-size="17" fill="#1e1e1e" stroke="#1e1e1e" stroke-width="0.5" letter-spacing="1.1" text-anchor="middle">(ii)</text>
<text x="313.2" y="95.8" font-size="17" fill="#1e1e1e" stroke="#1e1e1e" stroke-width="0.5" letter-spacing="1.1" text-anchor="middle">b</text>
<text x="268.5" y="266" font-size="17" fill="#1e1e1e" stroke="#1e1e1e" stroke-width="0.5" letter-spacing="1.1" text-anchor="middle">a</text>
<text x="821" y="558.8" font-size="17" fill="#1e1e1e" stroke="#1e1e1e" stroke-width="0.5" letter-spacing="1.1" text-anchor="middle">c</text>
<text x="820.7" y="576" font-size="17" fill="#1e1e1e" stroke="#1e1e1e" stroke-width="0.5" letter-spacing="1.1" text-anchor="middle">(iii)</text>
<circle cx="363.5" cy="242.6" r="6.9" fill="none" stroke="#1e1e1e" stroke-width="1.3"/>
<text x="363.5" y="246.7" font-size="11.2" font-weight="bold" fill="#1e1e1e" text-anchor="middle">1</text>
<circle cx="502" cy="122.4" r="6.9" fill="none" stroke="#1e1e1e" stroke-width="1.3"/>
<text x="502" y="126.5" font-size="11.2" font-weight="bold" fill="#1e1e1e" text-anchor="middle">2</text>
<circle cx="697.3" cy="410.3" r="6.9" fill="none" stroke="#1e1e1e" stroke-width="1.3"/>
<text x="697.3" y="414.40000000000003" font-size="11.2" font-weight="bold" fill="#1e1e1e" text-anchor="middle">3</text>
<circle cx="776.7" cy="332.5" r="6.9" fill="none" stroke="#1e1e1e" stroke-width="1.3"/>
<text x="776.7" y="336.6" font-size="11.2" font-weight="bold" fill="#1e1e1e" text-anchor="middle">4</text>
<circle cx="818.6" cy="532.1" r="6.9" fill="none" stroke="#1e1e1e" stroke-width="1.3"/>
<text x="818.6" y="536.2" font-size="11.2" font-weight="bold" fill="#1e1e1e" text-anchor="middle">5</text>
</svg></body></html>
